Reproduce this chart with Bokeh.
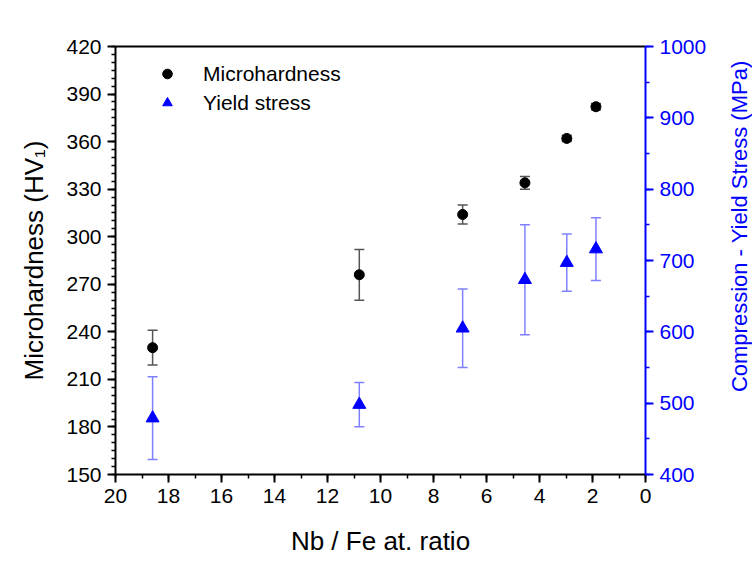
import math
from bokeh.plotting import figure
from bokeh.layouts import row
from bokeh.models import (Range1d, LinearAxis, FixedTicker, ColumnDataSource, Whisker,
                          TeeHead, Legend, LegendItem)
from bokeh.core.properties import value
from bokeh.embed import file_html
from bokeh.resources import INLINE

# ---- data ----
nb_fe_ratio = [18.6, 10.8, 6.9, 4.55, 2.97, 1.87]
microhardness = [230, 276, 314, 334, 362, 382]
microhardness_err = [11, 16, 6, 4, 2, 2]
yield_stress = [479, 498, 605, 673, 697, 716]
yield_stress_err = [58, 31, 55, 77, 40, 44]

x_ticks = list(range(0, 21, 2))
hv_ticks = list(range(150, 421, 30))
ys_ticks = list(range(400, 1001, 100))

FONT = "Liberation Sans"
BLUE = "#0000ff"
RIGHT_TITLE = "Compression - Yield Stress (MPa)"

hv_src = ColumnDataSource(dict(
    x=nb_fe_ratio, y=microhardness,
    lo=[v - e for v, e in zip(microhardness, microhardness_err)],
    hi=[v + e for v, e in zip(microhardness, microhardness_err)]))
ys_src = ColumnDataSource(dict(
    x=nb_fe_ratio, y=yield_stress,
    lo=[v - e for v, e in zip(yield_stress, yield_stress_err)],
    hi=[v + e for v, e in zip(yield_stress, yield_stress_err)]))

p = figure(width=720, height=561, output_backend="svg", toolbar_location=None,
           x_range=Range1d(20, 0), y_range=Range1d(150, 420),
           min_border_left=115, min_border_right=75, min_border_top=46, min_border_bottom=87,
           background_fill_color="white", border_fill_color="white")
p.extra_y_ranges = {"ys": Range1d(400, 1000)}
p.outline_line_color = None
p.grid.visible = False

def style_axis(ax, color):
    ax.axis_line_color = color
    ax.axis_line_width = 2
    ax.major_tick_line_color = color
    ax.major_tick_line_width = 2
    ax.minor_tick_line_color = color
    ax.minor_tick_line_width = 1.5
    ax.major_tick_out = 8
    ax.major_tick_in = 0
    ax.minor_tick_out = 4
    ax.minor_tick_in = 0
    ax.major_label_text_font = FONT
    ax.major_label_text_font_size = "21px"
    ax.major_label_text_color = color
    ax.axis_label_text_font = FONT
    ax.axis_label_text_font_size = "26px"
    ax.axis_label_text_font_style = "normal"
    ax.axis_label_text_color = color

xa = p.xaxis[0]
style_axis(xa, "black")
xa.ticker = FixedTicker(ticks=x_ticks, minor_ticks=list(range(0, 21)))
xa.axis_label = "Nb / Fe at. ratio"
xa.major_label_standoff = 6
xa.axis_label_standoff = 20

ya = p.yaxis[0]
style_axis(ya, "black")
ya.ticker = FixedTicker(ticks=hv_ticks, minor_ticks=list(range(150, 421, 5)))
ya.axis_label = "Microhardness (HV\u2081)"
ya.major_label_standoff = 6
ya.axis_label_standoff = 14

ra = LinearAxis(y_range_name="ys")
style_axis(ra, BLUE)
ra.ticker = FixedTicker(ticks=ys_ticks, minor_ticks=list(range(400, 1001, 50)))
ra.major_label_standoff = 6
p.add_layout(ra, "right")

ta = LinearAxis()
ta.axis_line_color = "black"
ta.axis_line_width = 2
ta.major_tick_line_color = None
ta.minor_tick_line_color = None
ta.major_label_text_font_size = "0px"
ta.major_label_text_color = None
p.add_layout(ta, "above")

# error bars
p.add_layout(Whisker(source=hv_src, base="x", lower="lo", upper="hi",
                     line_color="#555555", line_width=1.5,
                     upper_head=TeeHead(size=10, line_color="#555555", line_width=1.5),
                     lower_head=TeeHead(size=10, line_color="#555555", line_width=1.5)))
p.add_layout(Whisker(source=ys_src, base="x", lower="lo", upper="hi", y_range_name="ys",
                     line_color="#8080ff", line_width=1.5,
                     upper_head=TeeHead(size=10, line_color="#8080ff", line_width=1.5),
                     lower_head=TeeHead(size=10, line_color="#8080ff", line_width=1.5)))

r_hv = p.scatter("x", "y", source=hv_src, marker="circle", size=10,
                 fill_color="black", line_color="black")
r_ys = p.scatter("x", "y", source=ys_src, marker="triangle", size=13,
                 fill_color=BLUE, line_color=BLUE, y_range_name="ys")

legend = Legend(items=[LegendItem(label="Microhardness", renderers=[r_hv]),
                       LegendItem(label="Yield stress", renderers=[r_ys])],
                location=(40, 359), padding=0, margin=0, spacing=4,
                glyph_width=24, glyph_height=25, label_standoff=24,
                label_text_font=FONT, label_text_font_size="21px",
                label_text_color="black",
                border_line_color=None, background_fill_alpha=0)
p.add_layout(legend)

# narrow strip carrying the right-hand axis title, reading bottom-to-top
t = figure(width=32, height=561, output_backend="svg", toolbar_location=None,
           x_range=Range1d(0, 1), y_range=Range1d(0, 1),
           min_border=0, min_border_left=0, min_border_right=0,
           min_border_top=0, min_border_bottom=0,
           background_fill_color="white", border_fill_color="white")
t.axis.visible = False
t.grid.visible = False
t.outline_line_color = None
t.text(x=[0.6], y=[0.58], text=[RIGHT_TITLE], angle=math.pi / 2,
       text_font=value(FONT), text_font_size="22px", text_color=BLUE,
       text_align="center", text_baseline="middle")

layout = row(p, t, spacing=0)
open("out.html", "w").write(file_html(layout, INLINE))
